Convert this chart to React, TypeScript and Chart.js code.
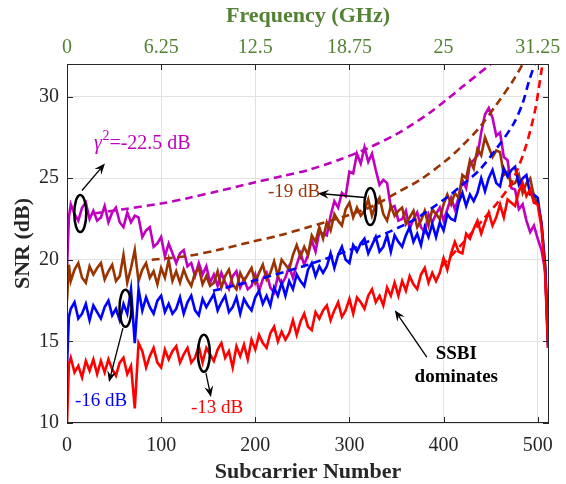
import React, { useEffect, useRef } from 'react';
import { Chart, registerables } from 'chart.js';

Chart.register(...registerables);

// ---------- data ----------
const subcarriers = [
  0, 2, 4, 8, 12, 16, 20, 24, 28, 32,
  36, 40, 44, 48, 52, 56, 60, 64, 68, 72,
  76, 80, 84, 88, 92, 96, 100, 104, 108, 112,
  116, 120, 124, 128, 132, 136, 140, 144, 148, 152,
  156, 160, 164, 168, 172, 176, 180, 184, 188, 192,
  196, 200, 204, 208, 212, 216, 220, 224, 228, 232,
  236, 240, 244, 248, 252, 256, 260, 264, 268, 272,
  276, 280, 284, 288, 292, 296, 300, 304, 308, 312,
  316, 320, 324, 328, 332, 336, 340, 344, 348, 352,
  356, 360, 364, 368, 372, 376, 380, 384, 388, 392,
  396, 400, 404, 408, 412, 416, 420, 424, 428, 432,
  436, 440, 444, 448, 452, 456, 460, 464, 468, 472,
  476, 480, 484, 488, 492, 496, 500, 504, 508, 511,
];

// gamma^2 = -22.5 dB (magenta)
const snrMagenta = [
  19.5, 22.6, 23.4, 22.8, 22.4, 23.2, 23.5, 22.5, 23.0, 22.4,
  22.6, 23.3, 22.3, 22.9, 23.2, 22.3, 22.0, 22.9, 22.3, 22.7,
  22.6, 21.4, 21.8, 22.0, 20.8, 21.0, 21.4, 20.2, 21.0, 20.4,
  19.8, 20.4, 20.6, 19.6, 19.8, 19.0, 19.8, 19.1, 19.6, 18.6,
  19.1, 18.4, 19.2, 18.6, 18.2, 19.0, 19.3, 18.3, 18.8, 18.2,
  18.4, 19.1, 18.1, 18.8, 19.2, 18.3, 18.0, 19.0, 18.5, 18.9,
  19.6, 18.9, 19.7, 20.4, 19.7, 20.3, 21.2, 20.5, 21.7, 21.6,
  21.5, 22.7, 23.6, 23.2, 24.1, 23.9, 25.4, 25.3, 26.5, 25.9,
  26.9, 26.0, 26.5, 25.5, 24.6, 24.9, 24.7, 23.2, 23.3, 22.4,
  22.5, 23.0, 21.9, 22.5, 22.9, 22.0, 21.7, 22.8, 22.3, 22.8,
  23.2, 22.4, 23.1, 23.8, 23.1, 23.8, 24.9, 24.4, 25.9, 26.1,
  26.4, 27.8, 28.9, 29.3, 28.7, 27.6, 27.8, 26.3, 26.1, 24.4,
  24.3, 23.1, 23.4, 22.4, 21.7, 22.1, 21.3, 20.6, 19.3, 14.6,
];

// -19 dB (brown)
const snrBrown = [
  17.5, 19.7, 18.7, 19.4, 19.8, 18.9, 18.6, 19.6, 19.1, 19.5,
  19.8, 18.8, 19.3, 19.7, 18.7, 19.0, 20.3, 18.6, 19.5, 20.6,
  18.7, 19.4, 19.8, 18.9, 19.3, 18.5, 19.5, 18.9, 20.0, 18.7,
  19.3, 18.6, 19.4, 18.8, 18.4, 19.2, 19.5, 18.5, 19.0, 18.4,
  18.6, 19.3, 18.3, 19.0, 19.4, 18.5, 18.2, 19.2, 18.7, 19.1,
  19.5, 18.6, 19.2, 19.7, 18.8, 19.2, 19.9, 19.0, 20.0, 19.7,
  19.4, 20.3, 20.9, 20.2, 20.8, 20.3, 21.5, 21.1, 22.0, 21.3,
  22.3, 21.8, 22.8, 22.4, 22.1, 23.1, 23.5, 22.6, 23.2, 22.7,
  23.0, 23.7, 22.7, 23.4, 23.8, 22.8, 22.4, 23.3, 22.7, 23.0,
  23.2, 22.2, 22.6, 23.0, 22.0, 22.4, 23.0, 22.1, 23.1, 22.8,
  22.5, 23.4, 24.0, 23.4, 24.1, 23.8, 25.2, 25.0, 26.1, 25.6,
  26.8, 26.4, 27.5, 26.9, 26.3, 26.7, 26.6, 25.2, 25.4, 24.6,
  24.7, 25.2, 24.1, 24.7, 25.0, 23.9, 23.4, 22.3, 19.6, 14.9,
];

// -16 dB (blue)
const snrBlue = [
  13.5, 16.5, 17.0, 17.4, 16.4, 16.7, 17.3, 16.3, 17.2, 16.8,
  16.4, 17.1, 17.5, 16.6, 17.0, 16.3, 17.3, 16.7, 18.2, 14.9,
  18.2, 16.9, 17.7, 17.1, 16.7, 17.5, 17.8, 16.8, 17.3, 16.7,
  17.0, 17.7, 16.7, 17.4, 17.8, 16.9, 16.6, 17.6, 17.1, 17.5,
  17.9, 16.9, 17.4, 17.8, 16.8, 17.1, 17.7, 16.7, 17.6, 17.2,
  16.9, 17.7, 18.1, 17.3, 17.8, 17.2, 18.3, 17.8, 18.6, 17.8,
  18.7, 18.2, 19.1, 18.7, 18.4, 19.4, 19.8, 19.0, 19.6, 19.2,
  19.6, 20.4, 19.5, 20.3, 20.8, 20.0, 19.8, 20.9, 20.5, 21.0,
  21.3, 20.4, 20.9, 21.4, 20.5, 20.8, 21.5, 20.5, 21.5, 21.1,
  20.8, 21.5, 22.0, 21.1, 21.6, 20.9, 22.0, 21.4, 22.2, 21.4,
  22.3, 21.8, 22.8, 22.5, 22.4, 23.5, 24.1, 23.3, 24.0, 23.6,
  24.1, 25.0, 24.2, 25.0, 25.5, 24.7, 24.5, 25.6, 25.1, 25.5,
  25.7, 24.6, 25.0, 25.2, 24.0, 24.0, 23.8, 22.2, 19.5, 14.8,
];

// -13 dB (red)
const snrRed = [
  10.0, 13.6, 14.0, 13.1, 13.5, 12.8, 13.8, 13.2, 13.9, 13.0,
  13.8, 13.1, 13.9, 13.3, 12.9, 13.7, 14.0, 13.0, 13.5, 10.9,
  14.9, 14.4, 13.4, 14.1, 14.6, 13.7, 13.4, 14.5, 13.9, 14.4,
  14.7, 13.7, 14.2, 14.6, 13.7, 14.0, 14.7, 13.7, 14.6, 14.2,
  13.8, 14.5, 14.9, 14.0, 14.4, 13.4, 14.7, 14.1, 14.8, 13.9,
  15.1, 14.5, 15.4, 14.9, 14.6, 15.5, 15.9, 15.0, 15.6, 15.1,
  15.5, 16.3, 15.4, 16.2, 16.7, 15.9, 15.7, 16.8, 16.4, 16.9,
  17.2, 16.3, 16.9, 17.4, 16.5, 16.9, 17.6, 16.7, 17.7, 17.4,
  17.0, 17.8, 18.2, 17.4, 17.8, 17.2, 18.3, 17.8, 18.6, 17.8,
  18.7, 18.1, 19.0, 18.5, 18.2, 19.1, 19.5, 18.6, 19.2, 18.7,
  19.2, 20.1, 19.4, 20.4, 21.1, 20.5, 20.4, 21.6, 21.3, 21.9,
  22.4, 21.6, 22.3, 22.9, 22.1, 22.6, 23.4, 22.6, 23.7, 23.5,
  23.3, 24.2, 24.7, 23.9, 24.3, 23.5, 23.4, 22.0, 19.0, 14.6,
];

// theoretical (dashed) curves
const magentaDashX = [30, 60, 100, 130, 160, 200, 230, 256, 290, 318, 350, 367, 385, 403, 420, 435, 449, 462];
const magentaDashY = [22.85, 23.1, 23.45, 23.8, 24.2, 24.75, 25.15, 25.5, 26.15, 26.8, 27.7, 28.3, 29.0, 29.8, 30.6, 31.3, 31.95, 32.7];
const brownDashX = [90, 130, 160, 196, 226, 256, 297, 325, 350, 375, 403, 420, 438, 456, 474, 490];
const brownDashY = [20.0, 20.25, 20.6, 21.1, 21.5, 22.0, 22.7, 23.3, 24.1, 24.9, 26.1, 27.0, 28.1, 29.5, 31.0, 32.6];
const blueDashX = [155, 200, 256, 300, 330, 367, 403, 420, 438, 456, 474, 484, 491, 500];
const blueDashY = [18.1, 18.75, 19.7, 20.6, 21.4, 22.4, 23.8, 24.6, 25.5, 26.8, 28.3, 29.6, 31.0, 32.5];
const redDashX = [398, 420, 444, 460, 472, 486, 497, 504, 509];
const redDashY = [19.6, 21.0, 22.6, 23.7, 24.7, 26.7, 29.1, 31.6, 33.5];

// ticks
const xTicks = [0, 100, 200, 300, 400, 500];
const yTicks = [10, 15, 20, 25, 30];
const freqTicks = [0, 6.25, 12.5, 18.75, 25, 31.25];
const freqTickLabels = ['0', '6.25', '12.5', '18.75', '25', '31.25'];

// ---------- styles ----------
const MAGENTA = '#bf00bf';
const BROWN = '#993300';
const BLUE = '#0000ff';
const RED = '#ff0000';
const GREEN = '#548235';
const INK = '#262626';
const SERIF = "'Liberation Serif', 'Times New Roman', serif";

// annotations in data units
const ellipses = [
  { x: 14.1, y: 22.84 },
  { x: 322.2, y: 23.27 },
  { x: 62.1, y: 17.03 },
  { x: 145.4, y: 14.28 },
];
const arrows = [
  { x1: 15.9, y1: 24.25, x2: 40.3, y2: 25.9 },
  { x1: 316.3, y1: 23.82, x2: 266.5, y2: 24.07 },
  { x1: 59.4, y1: 15.81, x2: 44.6, y2: 12.51 },
  { x1: 147.6, y1: 13.06, x2: 152.9, y2: 11.59 },
  { x1: 382.2, y1: 14.04, x2: 348.2, y2: 16.91 },
];

const pts = (xs: number[], ys: number[]) => xs.map((x, i) => ({ x, y: ys[i] }));

const drawArrow = (ctx: CanvasRenderingContext2D, x1: number, y1: number, x2: number, y2: number) => {
  const ang = Math.atan2(y2 - y1, x2 - x1);
  const c = Math.cos(ang), s = Math.sin(ang);
  const L = 11, W = 4.5, N = 7;
  ctx.beginPath();
  ctx.moveTo(x1, y1);
  ctx.lineTo(x2 - N * c, y2 - N * s);
  ctx.stroke();
  const bx = x2 - L * c, by = y2 - L * s;
  ctx.beginPath();
  ctx.moveTo(x2, y2);
  ctx.lineTo(bx - W * s, by + W * c);
  ctx.lineTo(x2 - N * c, y2 - N * s);
  ctx.lineTo(bx + W * s, by - W * c);
  ctx.closePath();
  ctx.fill();
};

const annotPlugin = {
  id: 'annot',
  afterDatasetsDraw(chart: any) {
    const { ctx, scales } = chart;
    const X = (v: number) => scales.x.getPixelForValue(v);
    const Y = (v: number) => scales.y.getPixelForValue(v);
    ctx.save();
    ctx.strokeStyle = '#000';
    ctx.lineWidth = 2.5;
    ellipses.forEach((e) => {
      ctx.beginPath();
      ctx.ellipse(X(e.x), Y(e.y), 6, 18.5, 0, 0, Math.PI * 2);
      ctx.stroke();
    });
    ctx.lineWidth = 1.3;
    ctx.fillStyle = '#000';
    arrows.forEach((a) => drawArrow(ctx, X(a.x1), Y(a.y1), X(a.x2), Y(a.y2)));

    ctx.textBaseline = 'alphabetic';
    ctx.textAlign = 'left';
    let tx = X(28.7);
    const ty = Y(26.82);
    ctx.fillStyle = MAGENTA;
    ctx.font = `italic 20px ${SERIF}`;
    ctx.fillText('γ', tx, ty);
    tx += ctx.measureText('γ').width + 0.5;
    ctx.font = `14px ${SERIF}`;
    ctx.fillText('2', tx, ty - 9);
    tx += ctx.measureText('2').width;
    ctx.font = `20px ${SERIF}`;
    ctx.fillText('=-22.5 dB', tx, ty);

    ctx.font = `19px ${SERIF}`;
    ctx.fillStyle = BROWN;
    ctx.fillText('-19 dB', X(213.4), Y(23.82));
    ctx.fillStyle = BLUE;
    ctx.fillText('-16 dB', X(8.5), Y(11.04));
    ctx.fillStyle = RED;
    ctx.fillText('-13 dB', X(131.6), Y(10.61));

    ctx.fillStyle = '#000';
    ctx.font = `bold 19px ${SERIF}`;
    ctx.textAlign = 'center';
    ctx.fillText('SSBI', X(413.5), Y(13.9));
    ctx.fillText('dominates', X(413.5), Y(12.5));
    ctx.restore();
  },
  afterDraw(chart: any) {
    const { ctx, chartArea: a, scales } = chart;
    ctx.save();
    ctx.strokeStyle = INK;
    ctx.lineWidth = 1;
    ctx.strokeRect(a.left + 0.5, a.top + 0.5, a.right - a.left - 1, a.bottom - a.top - 1);
    const T = 6;
    ctx.beginPath();
    xTicks.forEach((v) => {
      const px = Math.round(scales.x.getPixelForValue(v)) + 0.5;
      ctx.moveTo(px, a.bottom);
      ctx.lineTo(px, a.bottom - T);
      ctx.moveTo(px, a.top);
      ctx.lineTo(px, a.top + T);
    });
    yTicks.forEach((v) => {
      const py = Math.round(scales.y.getPixelForValue(v)) + 0.5;
      ctx.moveTo(a.left, py);
      ctx.lineTo(a.left + T, py);
      ctx.moveTo(a.right, py);
      ctx.lineTo(a.right - T, py);
    });
    ctx.stroke();
    ctx.restore();
  },
};

export default function App() {
  const ref = useRef<HTMLCanvasElement | null>(null);

  useEffect(() => {
    if (!ref.current) return;
    const solid = (data: number[], color: string, order: number) => ({
      data: pts(subcarriers, data),
      borderColor: color,
      borderWidth: 2.6,
      pointRadius: 0,
      tension: 0,
      fill: false,
      order,
    });
    const dashed = (xs: number[], ys: number[], color: string, order: number) => ({
      data: pts(xs, ys),
      borderColor: color,
      borderWidth: 2.6,
      borderDash: [8, 5],
      pointRadius: 0,
      tension: 0.3,
      fill: false,
      order,
    });
    const chart = new Chart(ref.current, {
      type: 'line',
      data: {
        datasets: [
          dashed(magentaDashX, magentaDashY, MAGENTA, 1),
          dashed(brownDashX, brownDashY, BROWN, 2),
          dashed(blueDashX, blueDashY, BLUE, 3),
          dashed(redDashX, redDashY, RED, 4),
          solid(snrRed, RED, 5),
          solid(snrBlue, BLUE, 6),
          solid(snrBrown, BROWN, 7),
          solid(snrMagenta, MAGENTA, 8),
        ] as any,
      },
      options: {
        responsive: false,
        animation: false,
        events: [],
        layout: { padding: { left: 0, right: 17, top: 0, bottom: 0 } },
        plugins: { legend: { display: false }, tooltip: { enabled: false } },
        scales: {
          x: {
            type: 'linear',
            position: 'bottom',
            min: 0,
            max: 512,
            afterBuildTicks: (s: any) => { s.ticks = xTicks.map((v) => ({ value: v })); },
            afterFit: (s: any) => { s.height = 61; },
            grid: { color: '#e2e2e2', lineWidth: 1, drawTicks: false },
            border: { display: false },
            ticks: { color: INK, font: { family: SERIF, size: 20 }, padding: 11, maxRotation: 0, autoSkip: false },
            title: {
              display: true,
              text: 'Subcarrier Number',
              color: INK,
              font: { family: SERIF, size: 22, weight: 'bold', lineHeight: 1 },
              padding: { top: 0, bottom: 1 },
            },
          },
          xTop: {
            type: 'linear',
            position: 'top',
            min: 0,
            max: 32,
            afterBuildTicks: (s: any) => { s.ticks = freqTicks.map((v) => ({ value: v })); },
            afterFit: (s: any) => { s.height = 64; },
            grid: { display: false, drawTicks: false },
            border: { display: false },
            ticks: {
              color: GREEN,
              font: { family: SERIF, size: 20 },
              padding: 4,
              maxRotation: 0,
              autoSkip: false,
              callback: (_v: any, i: number) => freqTickLabels[i],
            },
            title: {
              display: true,
              text: 'Frequency (GHz)',
              color: GREEN,
              font: { family: SERIF, size: 22, weight: 'bold', lineHeight: 1 },
              padding: { top: 5, bottom: 0 },
            },
          },
          y: {
            type: 'linear',
            min: 10,
            max: 32,
            afterBuildTicks: (s: any) => { s.ticks = yTicks.map((v) => ({ value: v })); },
            afterFit: (s: any) => { s.width = 67; },
            grid: { color: '#e2e2e2', lineWidth: 1, drawTicks: false },
            border: { display: false },
            ticks: { color: INK, font: { family: SERIF, size: 20 }, padding: 8 },
            title: {
              display: true,
              text: 'SNR (dB)',
              color: INK,
              font: { family: SERIF, size: 22, weight: 'bold', lineHeight: 1 },
              padding: { top: 12, bottom: 0 },
            },
          },
        },
      } as any,
      plugins: [annotPlugin],
    });
    return () => chart.destroy();
  }, []);

  return (
    <div style={{ position: 'absolute', left: 0, top: 0, width: 566, height: 484, background: '#fff' }}>
      <canvas ref={ref} width={566} height={484} style={{ display: 'block', width: 566, height: 484 }} />
    </div>
  );
}
